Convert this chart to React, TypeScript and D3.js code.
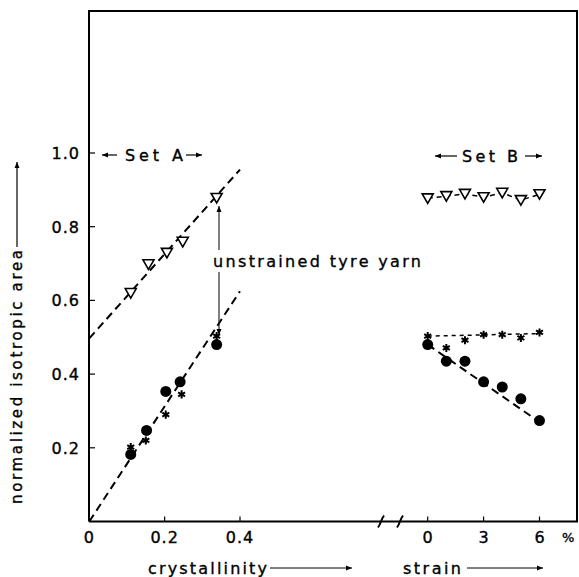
import React, { useEffect, useRef } from "react";
import * as d3 from "d3";

// Set A: against crystallinity
const triA_x = [0.11, 0.157, 0.206, 0.248, 0.338];
const triA_y = [0.62, 0.698, 0.729, 0.759, 0.878];
const dotA_x = [0.11, 0.152, 0.203, 0.241, 0.338];
const dotA_y = [0.182, 0.247, 0.353, 0.379, 0.48];
const starA_x = [0.11, 0.15, 0.203, 0.245, 0.338];
const starA_y = [0.202, 0.22, 0.29, 0.345, 0.503];
const fitA_x = [0, 0.4];
const fitTriA_y = [0.497, 0.955];
const fitLowA_y = [0, 0.625];

// Set B: against strain (%)
const strainB = [0, 1, 2, 3, 4, 5, 6];
const triB_y = [0.877, 0.883, 0.889, 0.88, 0.892, 0.872, 0.888];
const starB_y = [0.503, 0.471, 0.492, 0.507, 0.507, 0.498, 0.513];
const dotB_y = [0.48, 0.435, 0.435, 0.379, 0.365, 0.333, 0.274];
const fitB_x = [0, 6];
const fitDotB_y = [0.48, 0.27];
const fitStarB_y = [0.503, 0.51];

const yTicks = [0.2, 0.4, 0.6, 0.8, 1.0];
const crystTicks = [0, 0.2, 0.4];
const strainTicks = [0, 3, 6];

const FONT = "DejaVu Sans, sans-serif";

export default function App() {
  const svgRef = useRef<SVGSVGElement>(null);

  useEffect(() => {
    const W = 579, H = 577;
    const svg = d3.select(svgRef.current).attr("width", W).attr("height", H);
    svg.selectAll("*").remove();

    const xC = d3.scaleLinear().domain([0, 0.4]).range([89.3, 240]);
    const xS = d3.scaleLinear().domain([0, 6]).range([427.7, 539.5]);
    const y = d3.scaleLinear().domain([0, 1]).range([521.5, 153]);

    const left = 89, right = 577, top = 11, bottom = y(0);

    const txt = (x: number, yy: number, s: string, size = 15) =>
      svg.append("text").attr("x", x).attr("y", yy)
        .attr("font-family", FONT).attr("font-size", size)
        .attr("stroke", "#000").attr("stroke-width", 0.35).text(s);

    // frame
    svg.append("path")
      .attr("d", `M${left},${bottom}V${top}H${right}V${bottom}H${left}`)
      .attr("fill", "none").attr("stroke", "#000").attr("stroke-width", 2);

    // y ticks + labels
    yTicks.forEach(t => {
      svg.append("line").attr("x1", left).attr("x2", left + 6)
        .attr("y1", y(t)).attr("y2", y(t)).attr("stroke", "#000").attr("stroke-width", 1.2);
      txt(80, y(t) + 6, t.toFixed(1), 16).attr("text-anchor", "end").attr("letter-spacing", 1);
    });

    // x ticks (crystallinity)
    crystTicks.forEach(t => {
      if (t > 0) {
        svg.append("line").attr("x1", xC(t)).attr("x2", xC(t))
          .attr("y1", bottom).attr("y2", bottom - 5).attr("stroke", "#000").attr("stroke-width", 1.2);
      }
      txt(xC(t), 543, t === 0 ? "0" : t.toFixed(1), 16).attr("text-anchor", "middle").attr("letter-spacing", 1);
    });

    // x ticks (strain)
    strainTicks.forEach(t => {
      svg.append("line").attr("x1", xS(t)).attr("x2", xS(t))
        .attr("y1", bottom).attr("y2", bottom - 5).attr("stroke", "#000").attr("stroke-width", 1.2);
      txt(xS(t), 543, String(t), 16).attr("text-anchor", "middle");
    });
    txt(562, 542, "%", 13);

    // axis break marks
    [381, 400].forEach(bx => {
      svg.append("path")
        .attr("d", `M${bx - 3},${bottom + 6}C${bx},${bottom + 2} ${bx},${bottom - 2} ${bx + 3},${bottom - 6}`)
        .attr("fill", "none").attr("stroke", "#000").attr("stroke-width", 2);
    });

    // arrow helper
    const arrow = (x1: number, y1: number, x2: number, y2: number, w = 1.2) => {
      svg.append("line").attr("x1", x1).attr("y1", y1).attr("x2", x2).attr("y2", y2)
        .attr("stroke", "#000").attr("stroke-width", w);
      const a = Math.atan2(y2 - y1, x2 - x1);
      const L = 6, s = 2.5;
      const p = [
        [x2, y2],
        [x2 - L * Math.cos(a) + s * Math.sin(a), y2 - L * Math.sin(a) - s * Math.cos(a)],
        [x2 - L * Math.cos(a) - s * Math.sin(a), y2 - L * Math.sin(a) + s * Math.cos(a)],
      ];
      svg.append("polygon").attr("points", p.map(d => d.join(",")).join(" ")).attr("fill", "#000");
    };

    // axis titles
    svg.append("text")
      .attr("transform", "translate(22,504) rotate(-90)")
      .attr("font-family", FONT).attr("font-size", 15)
      .attr("stroke", "#000").attr("stroke-width", 0.35)
      .attr("textLength", 254).attr("lengthAdjust", "spacing")
      .text("normalized isotropic area");
    arrow(17, 247, 17, 162);

    txt(148, 574, "crystallinity", 16).attr("textLength", 119).attr("lengthAdjust", "spacing");
    arrow(270, 568, 352, 568, 1);

    txt(403, 574, "strain", 16).attr("textLength", 58).attr("lengthAdjust", "spacing");
    arrow(467, 568, 543, 568, 1);

    // set labels
    arrow(117, 155, 102, 155);
    txt(125, 161, "Set  A", 16).attr("textLength", 58).attr("lengthAdjust", "spacing");
    arrow(186, 155, 202, 155);

    arrow(457, 156, 435, 156);
    txt(462, 162, "Set  B", 16).attr("textLength", 56).attr("lengthAdjust", "spacing");
    arrow(525, 156, 542, 156);

    // annotation
    txt(213, 267, "unstrained tyre yarn", 16).attr("textLength", 208).attr("lengthAdjust", "spacing");
    arrow(219, 250, 219, 206, 1);
    arrow(219, 272, 219, 335, 1);

    // fit lines
    const line = d3.line<[number, number]>().x(d => d[0]).y(d => d[1]);
    const dashed = (pts: [number, number][], dash: string, w = 2) =>
      svg.append("path").attr("d", line(pts)).attr("fill", "none")
        .attr("stroke", "#000").attr("stroke-width", w).attr("stroke-dasharray", dash);

    dashed(fitA_x.map((v, i) => [xC(v), y(fitTriA_y[i])] as [number, number]), "8,5");
    dashed(fitA_x.map((v, i) => [xC(v), y(fitLowA_y[i])] as [number, number]), "8,5");
    dashed(strainB.map((v, i) => [xS(v), y(triB_y[i])] as [number, number]), "5,4", 1.5);
    dashed(fitB_x.map((v, i) => [xS(v), y(fitStarB_y[i])] as [number, number]), "4,4", 1.5);
    dashed(fitB_x.map((v, i) => [xS(v), y(fitDotB_y[i])] as [number, number]), "8,5");

    // markers
    const tri = (cx: number, cy: number) =>
      svg.append("path")
        .attr("d", `M${cx - 5.5},${cy - 4.5}H${cx + 5.5}L${cx},${cy + 5}Z`)
        .attr("fill", "#fff").attr("stroke", "#000").attr("stroke-width", 1.6);
    const dot = (cx: number, cy: number) =>
      svg.append("circle").attr("cx", cx).attr("cy", cy).attr("r", 5.5).attr("fill", "#000");
    const star = (cx: number, cy: number) =>
      svg.append("path").attr("transform", `translate(${cx},${cy})`)
        .attr("d", d3.symbol(d3.symbolAsterisk, 45)())
        .attr("fill", "none").attr("stroke", "#000").attr("stroke-width", 2);

    triA_x.forEach((v, i) => tri(xC(v), y(triA_y[i])));
    dotA_x.forEach((v, i) => dot(xC(v), y(dotA_y[i])));
    starA_x.forEach((v, i) => star(xC(v), y(starA_y[i])));

    strainB.forEach((v, i) => tri(xS(v), y(triB_y[i])));
    strainB.forEach((v, i) => dot(xS(v), y(dotB_y[i])));
    strainB.forEach((v, i) => star(xS(v), y(starB_y[i])));
  }, []);

  return (
    <svg ref={svgRef} style={{ position: "absolute", left: 0, top: 0, background: "#fff" }} />
  );
}
